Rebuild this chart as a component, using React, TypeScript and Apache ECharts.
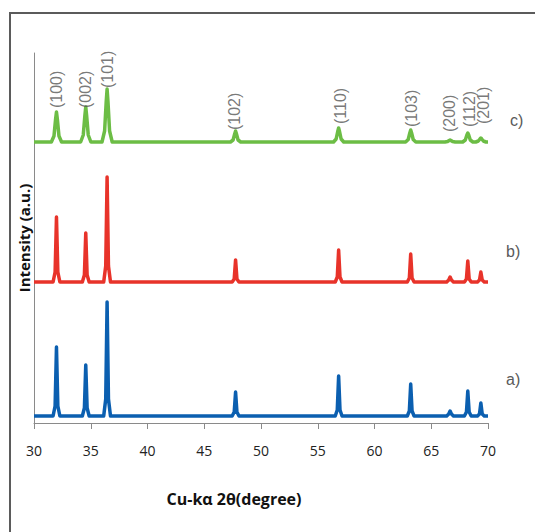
import React, { useEffect, useRef } from "react";
import * as echarts from "echarts";

// ---- axis ----
const X_MIN = 30;
const X_MAX = 70;
const X_STEP = 5;
const Y_MIN = 0;
const Y_MAX = 370;

// ---- series names and vertical offsets (a.u.) ----
const seriesNames = ["a)", "b)", "c)"];
const baselines = [7, 141, 281];

// ---- patterns: [2θ (deg), intensity above own baseline (a.u.)] ----
const patternA: [number, number][] = [
  [30, 0],
  [31.68, 0], [31.86, 10], [31.98, 69], [32.1, 10], [32.28, 0],
  [34.26, 0], [34.44, 8], [34.56, 51], [34.68, 8], [34.86, 0],
  [36.14, 0], [36.32, 17], [36.44, 114], [36.56, 17], [36.74, 0],
  [47.46, 0], [47.64, 4], [47.76, 24], [47.88, 4], [48.06, 0],
  [56.54, 0], [56.72, 6], [56.84, 40], [56.96, 6], [57.14, 0],
  [62.89, 0], [63.07, 5], [63.19, 32], [63.31, 5], [63.49, 0],
  [66.36, 0], [66.54, 2], [66.66, 5], [66.78, 2], [66.96, 0],
  [67.92, 0], [68.1, 4], [68.22, 25], [68.34, 4], [68.52, 0],
  [69.07, 0], [69.25, 2], [69.37, 13], [69.49, 2], [69.67, 0],
  [70, 0],
];

const patternB: [number, number][] = [
  [30, 0],
  [31.68, 0], [31.86, 10], [31.98, 65], [32.1, 10], [32.28, 0],
  [34.26, 0], [34.44, 7], [34.56, 49], [34.68, 7], [34.86, 0],
  [36.14, 0], [36.32, 16], [36.44, 105], [36.56, 16], [36.74, 0],
  [47.46, 0], [47.64, 3], [47.76, 22], [47.88, 3], [48.06, 0],
  [56.54, 0], [56.72, 5], [56.84, 32], [56.96, 5], [57.14, 0],
  [62.89, 0], [63.07, 4], [63.19, 28], [63.31, 4], [63.49, 0],
  [66.36, 0], [66.54, 2], [66.66, 5], [66.78, 2], [66.96, 0],
  [67.92, 0], [68.1, 3], [68.22, 21], [68.34, 3], [68.52, 0],
  [69.07, 0], [69.25, 2], [69.37, 10], [69.49, 2], [69.67, 0],
  [70, 0],
];

const patternC: [number, number][] = [
  [30, 0],
  [31.53, 0], [31.76, 6], [31.9, 22.5], [31.98, 30], [32.06, 22.5], [32.2, 6], [32.43, 0],
  [34.11, 0], [34.34, 7], [34.48, 26], [34.56, 35], [34.64, 26], [34.78, 7], [35.01, 0],
  [35.99, 0], [36.22, 11], [36.36, 40], [36.44, 53], [36.52, 40], [36.66, 11], [36.89, 0],
  [47.31, 0], [47.54, 2], [47.68, 8], [47.76, 11], [47.84, 8], [47.98, 2], [48.21, 0],
  [56.39, 0], [56.62, 3], [56.76, 10.5], [56.84, 14], [56.92, 10.5], [57.06, 3], [57.29, 0],
  [62.74, 0], [62.97, 2.5], [63.11, 9], [63.19, 12], [63.27, 9], [63.41, 2.5], [63.64, 0],
  [66.21, 0], [66.44, 0.5], [66.58, 1.5], [66.66, 2], [66.74, 1.5], [66.88, 0.5], [67.11, 0],
  [67.77, 0], [68.0, 2], [68.14, 7], [68.22, 9], [68.3, 7], [68.44, 2], [68.67, 0],
  [68.92, 0], [69.15, 1], [69.29, 3], [69.37, 4], [69.45, 3], [69.59, 1], [69.82, 0],
  [70, 0],
];

// ---- Miller-index annotations over pattern c) ----
const hklLabels = ["(100)", "(002)", "(101)", "(102)", "(110)", "(103)", "(200)", "(112)", "(201)"];
const hklX = [31.98, 34.56, 36.44, 47.7, 57.04, 63.25, 66.57, 68.4, 69.57];
const hklY = [315, 315, 335, 293, 299, 296, 291, 296, 299];

const patterns = [patternA, patternB, patternC];
const colors = ["#0b5fb0", "#e8332a", "#6cbd45"];
const endOffsets: [number, number][] = [[18, -37], [18, -31], [22, -22]];

export default function App() {
  const ref = useRef<HTMLDivElement>(null);

  useEffect(() => {
    document.body.style.margin = "0";
    if (!ref.current) return;
    const chart = echarts.init(ref.current, undefined, { renderer: "svg" });

    const lineSeries = patterns.map((p, i) => ({
      type: "line",
      name: seriesNames[i],
      data: p.map(([x, y]) => [x, y + baselines[i]]),
      showSymbol: false,
      symbol: "none",
      silent: true,
      lineStyle: { width: 3.5, color: colors[i], join: "round" },
      itemStyle: { color: colors[i] },
      endLabel: {
        show: true,
        formatter: seriesNames[i],
        distance: 0,
        align: "left",
        verticalAlign: "middle",
        offset: endOffsets[i],
        color: "#5a5a5a",
        fontSize: 16,
        fontFamily: "Liberation Sans",
      },
      z: 2,
    }));

    chart.setOption({
      animation: false,
      backgroundColor: "#ffffff",
      grid: { left: 34, right: 47, top: 53, bottom: 109, containLabel: false },
      xAxis: {
        type: "value",
        min: X_MIN,
        max: X_MAX,
        interval: X_STEP,
        axisLine: { show: true, lineStyle: { color: "#8a8a8a", width: 1 } },
        axisTick: { show: true, length: 6, lineStyle: { color: "#8a8a8a" } },
        axisLabel: { fontSize: 14, color: "#222", margin: 20, fontFamily: "Open Sans" },
        splitLine: { show: false },
        name: "Cu-kα 2θ(degree)",
        nameLocation: "middle",
        nameGap: 68,
        nameTextStyle: {
          fontSize: 16,
          fontWeight: "bold",
          color: "#111",
          fontFamily: "Open Sans",
          padding: [0, 54, 0, 0],
        },
      },
      yAxis: {
        type: "value",
        min: Y_MIN,
        max: Y_MAX,
        axisLine: { show: true, lineStyle: { color: "#8a8a8a", width: 1 } },
        axisTick: { show: false },
        axisLabel: { show: false },
        splitLine: { show: false },
        name: "Intensity (a.u.)",
        nameLocation: "middle",
        nameGap: 3,
        nameRotate: 90,
        nameTextStyle: {
          fontSize: 15,
          fontWeight: "bold",
          color: "#111",
          fontFamily: "Open Sans",
        },
      },
      graphic: [
        {
          type: "rect",
          shape: { x: 10, y: 13, width: 700, height: 700 },
          style: { fill: "none", stroke: "#5b5b5b", lineWidth: 2 },
          silent: true,
          z: 0,
        },
      ],
      series: [
        ...lineSeries,
        {
          type: "scatter",
          symbolSize: 0,
          silent: true,
          data: hklX.map((x, i) => ({ value: [x, hklY[i]], name: hklLabels[i] })),
          label: {
            show: true,
            formatter: "{b}",
            position: "inside",
            rotate: 90,
            align: "left",
            verticalAlign: "middle",
            color: "#555",
            fontSize: 16,
            fontFamily: "Liberation Sans",
          },
          z: 3,
        },
      ],
    });

    return () => chart.dispose();
  }, []);

  return <div ref={ref} style={{ width: 535, height: 532 }} />;
}
